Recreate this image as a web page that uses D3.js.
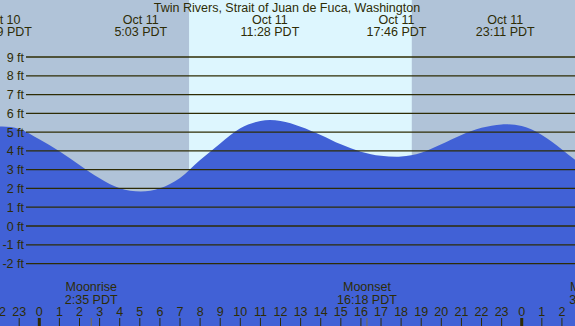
<!DOCTYPE html>
<html lang="en">
<head>
  <meta charset="UTF-8">
  <title>tide</title>
  <style>
    body { margin: 0; }
    svg { display: block; font-family: "Liberation Sans", Arial, sans-serif; }
    text { fill: #2e2c05; }
  </style>
  <script src="https://cdn.jsdelivr.net/npm/d3@7"></script>
</head>
<body>
<svg id="chart"></svg>
<script>
  const width = 575, height = 326;

  // hours since midnight Oct 11 (PDT), heights in ft
  const tideHours = [-2, -1.85, -1, 0, 1, 2, 3, 4, 5.05, 6, 7, 8, 9, 10, 11, 11.47, 12,
    13, 14, 15, 16, 17, 17.77, 18, 19, 20, 21, 22, 23, 23.18, 24, 25, 26, 26.7];
  const tideFeet = [5.29, 5.30, 5.17, 4.62, 3.98, 3.25, 2.54, 2.01, 1.84, 2.01, 2.56, 3.51, 4.40, 5.20, 5.59, 5.64, 5.59,
    5.29, 4.85, 4.35, 3.96, 3.74, 3.69, 3.70, 3.90, 4.35, 4.85, 5.23, 5.41, 5.42, 5.32, 4.85, 4.08, 3.48];

  // high / low labels
  const extremeHours = [-1.85, 5.05, 11.47, 17.77, 23.18];
  const extremeDays = ['Oct 10', 'Oct 11', 'Oct 11', 'Oct 11', 'Oct 11'];
  const extremeTimes = ['22:09 PDT', '5:03 PDT', '11:28 PDT', '17:46 PDT', '23:11 PDT'];

  // moon
  const moonHours = [2.583, 16.3, 27.68];
  const moonNames = ['Moonrise', 'Moonset', 'Moonrise'];
  const moonTimes = ['2:35 PDT', '16:18 PDT', '3:41 PDT'];

  // daylight
  const sunrise = 7.45, sunset = 18.53;

  const feetTicks = [-2, -1, 0, 1, 2, 3, 4, 5, 6, 7, 8, 9];
  const hourTicks = d3.range(-2, 27);

  const fs = 12.5;

  const x = d3.scaleLinear().domain([-1.955, 26.65]).range([0, width]);
  const y = d3.scaleLinear().domain([0, 9]).range([226, 57]);

  const svg = d3.select('#chart')
    .attr('width', width)
    .attr('height', height);

  // night / day background
  svg.append('rect')
    .attr('x', 0).attr('y', 0)
    .attr('width', width).attr('height', height)
    .attr('fill', '#b0c3d8');
  svg.append('rect')
    .attr('x', x(sunrise)).attr('y', 0)
    .attr('width', x(sunset) - x(sunrise)).attr('height', height)
    .attr('fill', '#ddf6fe');

  // water
  const pts = tideHours.map((h, i) => [h, tideFeet[i]]);
  const area = d3.area()
    .x(d => x(d[0]))
    .y0(height)
    .y1(d => y(d[1]))
    .curve(d3.curveMonotoneX);
  svg.append('path')
    .datum(pts)
    .attr('d', area)
    .attr('fill', '#4161d6');

  // grid lines + ft labels
  const grid = svg.append('g');
  grid.selectAll('line')
    .data(feetTicks)
    .join('line')
    .attr('x1', 26).attr('x2', width)
    .attr('y1', d => y(d)).attr('y2', d => y(d))
    .attr('stroke', '#2e2c05')
    .attr('stroke-width', 1.3);
  grid.selectAll('text')
    .data(feetTicks)
    .join('text')
    .attr('x', 24)
    .attr('y', d => y(d) + 4.5)
    .attr('text-anchor', 'end')
    .attr('font-size', fs)
    .text(d => d + ' ft');

  // title
  svg.append('text')
    .attr('x', 287).attr('y', 11.5)
    .attr('text-anchor', 'middle')
    .attr('font-size', fs)
    .text('Twin Rivers, Strait of Juan de Fuca, Washington');

  // extreme labels
  const ext = svg.append('g')
    .selectAll('g')
    .data(extremeHours)
    .join('g')
    .attr('transform', d => `translate(${x(d)},0)`);
  ext.append('text')
    .attr('y', 24)
    .attr('text-anchor', 'middle')
    .attr('font-size', fs)
    .text((d, i) => extremeDays[i]);
  ext.append('text')
    .attr('y', 36)
    .attr('text-anchor', 'middle')
    .attr('font-size', fs)
    .text((d, i) => extremeTimes[i]);

  // hour axis
  const hrs = svg.append('g');
  hrs.selectAll('line')
    .data(hourTicks)
    .join('line')
    .attr('x1', d => x(d)).attr('x2', d => x(d))
    .attr('y1', 318).attr('y2', height)
    .attr('stroke', '#2e2c05')
    .attr('stroke-width', d => (d % 24 === 0) ? 3 : 1);
  hrs.selectAll('text')
    .data(hourTicks)
    .join('text')
    .attr('x', d => x(d))
    .attr('y', 316)
    .attr('text-anchor', 'middle')
    .attr('font-size', fs)
    .text(d => (d + 24) % 24);

  // moon
  const moon = svg.append('g')
    .selectAll('g')
    .data(moonHours)
    .join('g')
    .attr('transform', d => `translate(${x(d)},0)`);
  moon.append('line')
    .attr('y1', 318).attr('y2', height)
    .attr('stroke', '#7a6c45')
    .attr('stroke-width', 1);
  moon.append('text')
    .attr('y', 291)
    .attr('text-anchor', 'middle')
    .attr('font-size', fs)
    .text((d, i) => moonNames[i]);
  moon.append('text')
    .attr('y', 304)
    .attr('text-anchor', 'middle')
    .attr('font-size', fs)
    .text((d, i) => moonTimes[i]);
</script>
</body>
</html>
